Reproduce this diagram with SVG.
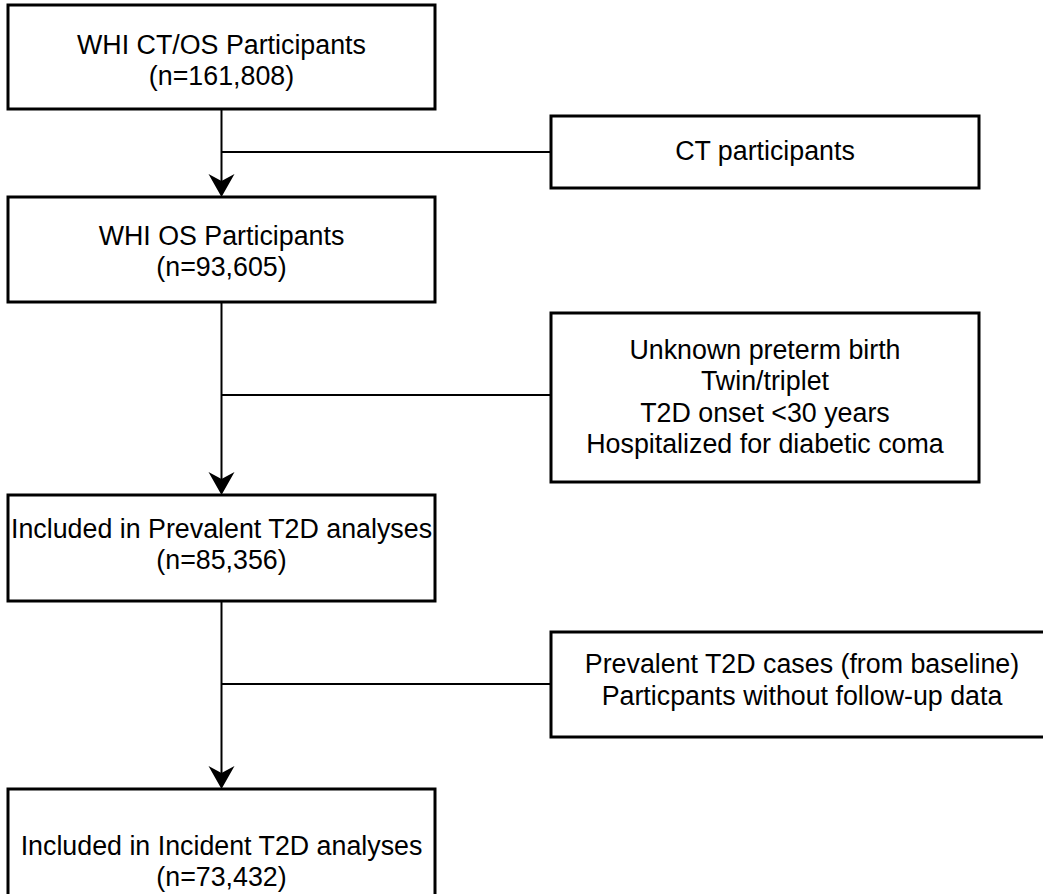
<svg xmlns="http://www.w3.org/2000/svg" width="1043" height="894" viewBox="0 0 1043 894">
<style>
.box{fill:#ffffff;stroke:#000000;stroke-width:3}
.ln{fill:none;stroke:#000000;stroke-width:2}
.ah{fill:#000000;stroke:none}
text{font-family:"Liberation Sans",Arial,sans-serif;font-size:26.8px;fill:#000000;text-anchor:middle}
</style>
<rect width="1043" height="894" fill="#ffffff"/>
<g id="connectors">
<line class="ln" x1="221.5" y1="109" x2="221.5" y2="185"/>
<line class="ln" x1="221.5" y1="152" x2="551" y2="152"/>
<path class="ah" d="M221.5,197 L208.5,174 L221.5,181 L234.5,174 Z"/>
<line class="ln" x1="221.5" y1="302" x2="221.5" y2="483"/>
<line class="ln" x1="221.5" y1="395" x2="551" y2="395"/>
<path class="ah" d="M221.5,495 L208.5,472 L221.5,479 L234.5,472 Z"/>
<line class="ln" x1="221.5" y1="601" x2="221.5" y2="777"/>
<line class="ln" x1="221.5" y1="684" x2="551" y2="684"/>
<path class="ah" d="M221.5,789 L208.5,766 L221.5,773 L234.5,766 Z"/>
</g>
<g id="n1">
<rect class="box" x="8" y="5" width="427" height="104"/>
<text x="221.5" y="54">WHI CT/OS Participants</text>
<text x="221.5" y="85">(n=161,808)</text>
</g>
<g id="n_ct">
<rect class="box" x="551" y="116" width="428" height="72"/>
<text x="765" y="160">CT participants</text>
</g>
<g id="n2">
<rect class="box" x="8" y="197" width="427" height="105"/>
<text x="221.5" y="245">WHI OS Participants</text>
<text x="221.5" y="276">(n=93,605)</text>
</g>
<g id="n_excl1">
<rect class="box" x="551" y="313" width="428" height="169"/>
<text x="765" y="359">Unknown preterm birth</text>
<text x="765" y="390">Twin/triplet</text>
<text x="765" y="422">T2D onset &lt;30 years</text>
<text x="765" y="453">Hospitalized for diabetic coma</text>
</g>
<g id="n3">
<rect class="box" x="8" y="495" width="427" height="106"/>
<text x="221.5" y="538">Included in Prevalent T2D analyses</text>
<text x="221.5" y="569">(n=85,356)</text>
</g>
<g id="n_excl2">
<rect class="box" x="551" y="632" width="502" height="105"/>
<text x="802" y="673">Prevalent T2D cases (from baseline)</text>
<text x="802" y="705">Particpants without follow-up data</text>
</g>
<g id="n4">
<rect class="box" x="8" y="789" width="427" height="112"/>
<text x="221.5" y="855">Included in Incident T2D analyses</text>
<text x="221.5" y="886">(n=73,432)</text>
</g>
</svg>
